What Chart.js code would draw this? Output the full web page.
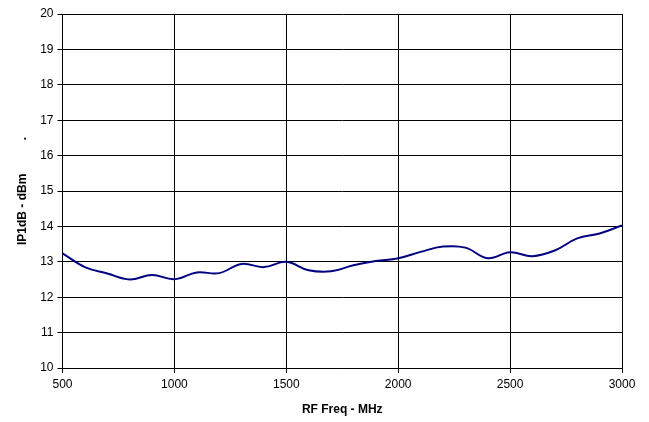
<!DOCTYPE html>
<html>
<head>
<meta charset="utf-8">
<script src="https://cdn.jsdelivr.net/npm/chart.js@4.4.1/dist/chart.umd.min.js"></script>
<style>
    body { margin: 0; background: #ffffff; }
    #contener { position: relative; width: 649px; height: 422px; }
</style>
</head>
<body>
<div id="contener">
    <canvas id="ip1dbCanvas" width="649" height="422"></canvas>
</div>
<script>
// valeurs
const frequences = [500, 600, 700, 800, 900, 1000, 1100, 1200, 1300, 1400, 1500, 1600, 1700,
    1800, 1900, 2000, 2100, 2200, 2300, 2400, 2500, 2600, 2700, 2800, 2900, 3000];
const ip1db = [13.24, 12.85, 12.67, 12.50, 12.63, 12.51, 12.70, 12.68, 12.94, 12.85, 13.00, 12.76, 12.73,
    12.90, 13.02, 13.10, 13.28, 13.43, 13.40, 13.10, 13.27, 13.16, 13.32, 13.66, 13.80, 14.03];
const xTicks = [500, 1000, 1500, 2000, 2500, 3000];
const yTicks = [10, 11, 12, 13, 14, 15, 16, 17, 18, 19, 20];

const points = frequences.map((f, i) => ({ x: f, y: ip1db[i] }));

const ip1dbCanvas = document.getElementById("ip1dbCanvas");
const ip1dbChart = new Chart(ip1dbCanvas,
    {
        type: "line",
        data: {
            datasets: [
                {
                    data: points,
                    borderColor: "#000080",
                    borderWidth: 2,
                    pointRadius: 0,
                    tension: 0.4,
                    fill: false,
                }
            ],
        },
        options:
        {
            responsive: false,
            animation: false,
            layout: {
                padding: { left: 0, right: 27, top: 14, bottom: 0 }
            },
            scales:
            {
                x: {
                    type: "linear",
                    min: xTicks[0],
                    max: xTicks[xTicks.length - 1],
                    afterBuildTicks: (axis) => { axis.ticks = xTicks.map(v => ({ value: v })); },
                    afterFit: (axis) => { axis.height = 54; },
                    grid: { color: "#000000", lineWidth: 1, tickLength: 5, tickColor: "#000000" },
                    border: { color: "#000000", width: 1 },
                    ticks: {
                        color: "#000000",
                        padding: 4,
                        maxRotation: 0,
                        callback: (v) => String(v),
                        font: { family: "Liberation Sans, Arial", size: 12 }
                    },
                    title: {
                        display: true,
                        text: "RF Freq - MHz",
                        color: "#000000",
                        padding: { top: 0, bottom: 5 },
                        font: { family: "Liberation Sans, Arial", size: 12, weight: "bold" }
                    }
                },
                y: {
                    min: yTicks[0],
                    max: yTicks[yTicks.length - 1],
                    afterBuildTicks: (axis) => { axis.ticks = yTicks.map(v => ({ value: v })); },
                    afterFit: (axis) => { axis.width = 62.5; },
                    grid: { color: "#000000", lineWidth: 1, tickLength: 5, tickColor: "#000000" },
                    border: { color: "#000000", width: 1 },
                    ticks: {
                        color: "#000000",
                        padding: 4,
                        font: { family: "Liberation Sans, Arial", size: 12 }
                    },
                    title: {
                        display: true,
                        text: "IP1dB - dBm          .",
                        color: "#000000",
                        padding: { top: 15, bottom: 0 },
                        font: { family: "Liberation Sans, Arial", size: 12, weight: "bold" }
                    }
                }
            },
            plugins:
            {
                legend: { display: false },
                tooltip: { enabled: false },
            }
        },
    })
</script>
</body>
</html>
